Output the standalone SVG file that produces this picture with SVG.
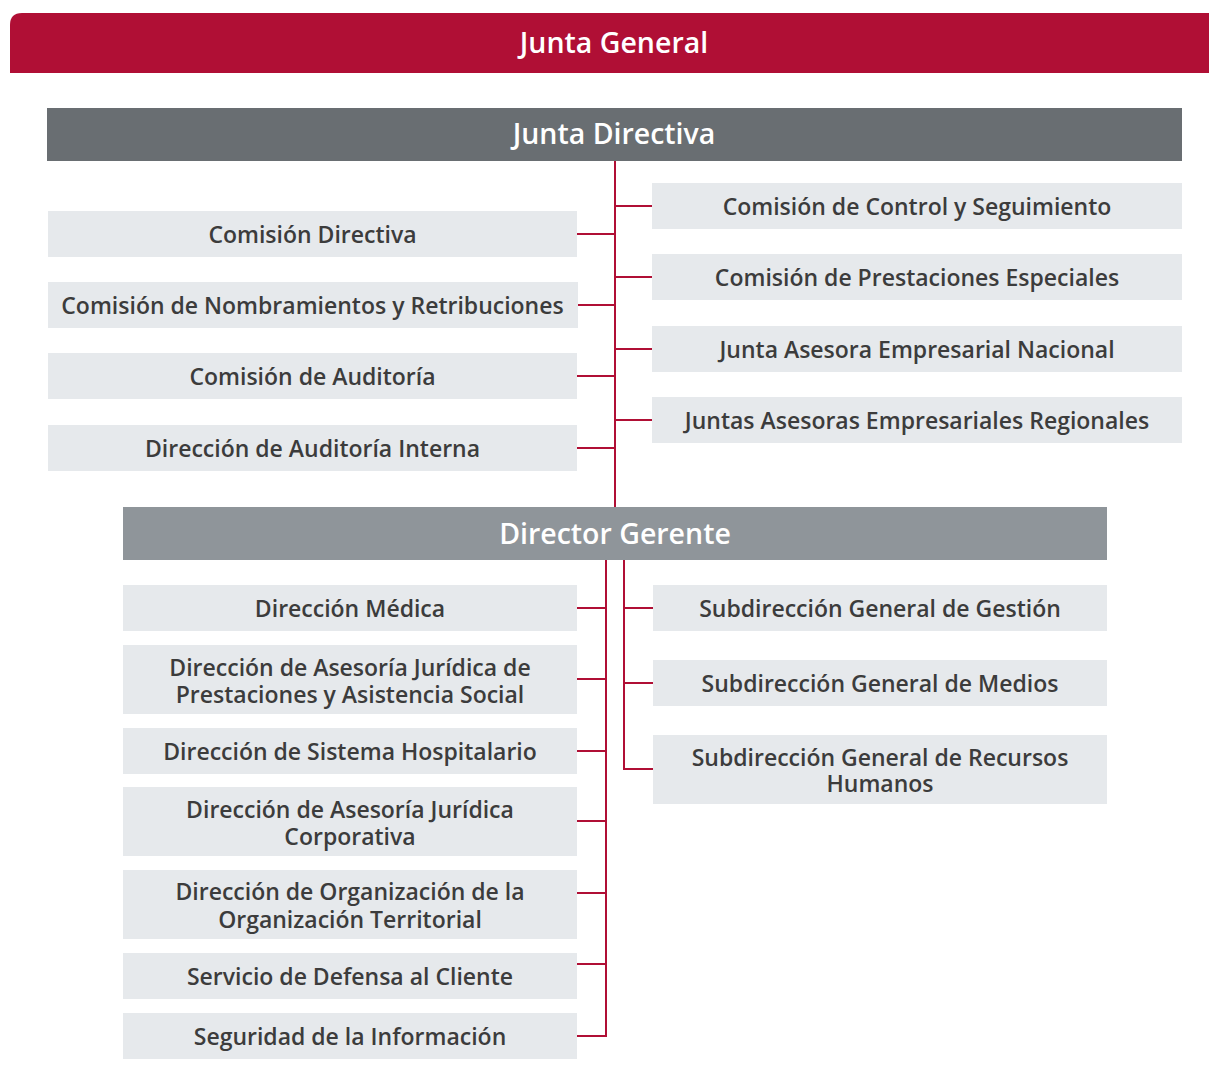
<svg xmlns="http://www.w3.org/2000/svg" width="1209" height="1086" viewBox="0 0 1209 1086">
<style>
.box{fill:#e6e9ec}
.t{font-family:"Open Sans","Noto Sans",sans-serif;font-weight:600;font-size:23px;fill:#3c3c3c;text-anchor:middle}
.h{font-family:"Open Sans","Noto Sans",sans-serif;font-weight:600;font-size:28.5px;fill:#ffffff;text-anchor:middle}
.c{fill:none;stroke:#b00f35;stroke-width:2}
</style>
<rect width="1209" height="1086" fill="#ffffff"/>
<g id="junta-general">
<path d="M22 13 H1209 V73 H10 V25 Q10 13 22 13 Z" fill="#b00f35"/>
<text class="h" x="614" y="53">Junta General</text>
</g>
<g id="junta-directiva">
<rect x="47" y="108" width="1135" height="53" fill="#696e72"/>
<text class="h" x="614" y="144">Junta Directiva</text>
</g>
<g id="connectors">
<path class="c" d="M615 161 V507"/>
<path class="c" d="M577 234 H615 M577 305 H615 M577 376 H615 M577 448 H615"/>
<path class="c" d="M615 206 H652 M615 277 H652 M615 349 H652 M615 420 H652"/>
<path class="c" d="M606 560 V1036 H577"/>
<path class="c" d="M577 608 H606 M577 679 H606 M577 751 H606 M577 821 H606 M577 893 H606 M577 964 H606"/>
<path class="c" d="M624 560 V769 H653"/>
<path class="c" d="M624 608 H653 M624 683 H653"/>
</g>
<g id="comision-directiva"><rect class="box" x="48" y="211" width="529" height="46"/><text class="t" x="312.5" y="243">Comisión Directiva</text></g>
<g id="comision-nombramientos"><rect class="box" x="48" y="282" width="530" height="46"/><text class="t" x="312.5" y="314">Comisión de Nombramientos y Retribuciones</text></g>
<g id="comision-auditoria"><rect class="box" x="48" y="353" width="529" height="46"/><text class="t" x="312.5" y="385">Comisión de Auditoría</text></g>
<g id="direccion-auditoria-interna"><rect class="box" x="48" y="425" width="529" height="46"/><text class="t" x="312.5" y="457">Dirección de Auditoría Interna</text></g>
<g id="comision-control"><rect class="box" x="652" y="183" width="530" height="46"/><text class="t" x="917" y="215">Comisión de Control y Seguimiento</text></g>
<g id="comision-prestaciones"><rect class="box" x="652" y="254" width="530" height="46"/><text class="t" x="917" y="286">Comisión de Prestaciones Especiales</text></g>
<g id="junta-asesora-nacional"><rect class="box" x="652" y="326" width="530" height="46"/><text class="t" x="917" y="358">Junta Asesora Empresarial Nacional</text></g>
<g id="juntas-asesoras-regionales"><rect class="box" x="652" y="397" width="530" height="46"/><text class="t" x="917" y="429">Juntas Asesoras Empresariales Regionales</text></g>
<g id="director-gerente">
<rect x="123" y="507" width="984" height="53" fill="#8f959a"/>
<text class="h" x="615" y="544">Director Gerente</text>
</g>
<g id="direccion-medica"><rect class="box" x="123" y="585" width="454" height="46"/><text class="t" x="350" y="617">Dirección Médica</text></g>
<g id="direccion-asesoria-prestaciones"><rect class="box" x="123" y="645" width="454" height="69"/><text class="t" x="350" y="676">Dirección de Asesoría Jurídica de<tspan x="350" dy="27">Prestaciones y Asistencia Social</tspan></text></g>
<g id="direccion-sistema-hospitalario"><rect class="box" x="123" y="728" width="454" height="46"/><text class="t" x="350" y="760">Dirección de Sistema Hospitalario</text></g>
<g id="direccion-asesoria-corporativa"><rect class="box" x="123" y="787" width="454" height="69"/><text class="t" x="350" y="818">Dirección de Asesoría Jurídica<tspan x="350" dy="27">Corporativa</tspan></text></g>
<g id="direccion-organizacion"><rect class="box" x="123" y="870" width="454" height="69"/><text class="t" x="350" y="900">Dirección de Organización de la<tspan x="350" dy="28">Organización Territorial</tspan></text></g>
<g id="servicio-defensa"><rect class="box" x="123" y="953" width="454" height="46"/><text class="t" x="350" y="985">Servicio de Defensa al Cliente</text></g>
<g id="seguridad-informacion"><rect class="box" x="123" y="1013" width="454" height="46"/><text class="t" x="350" y="1045">Seguridad de la Información</text></g>
<g id="subdireccion-gestion"><rect class="box" x="653" y="585" width="454" height="46"/><text class="t" x="880" y="617">Subdirección General de Gestión</text></g>
<g id="subdireccion-medios"><rect class="box" x="653" y="660" width="454" height="46"/><text class="t" x="880" y="692">Subdirección General de Medios</text></g>
<g id="subdireccion-recursos-humanos"><rect class="box" x="653" y="735" width="454" height="69"/><text class="t" x="880" y="766">Subdirección General de Recursos<tspan x="880" dy="26">Humanos</tspan></text></g>
</svg>
